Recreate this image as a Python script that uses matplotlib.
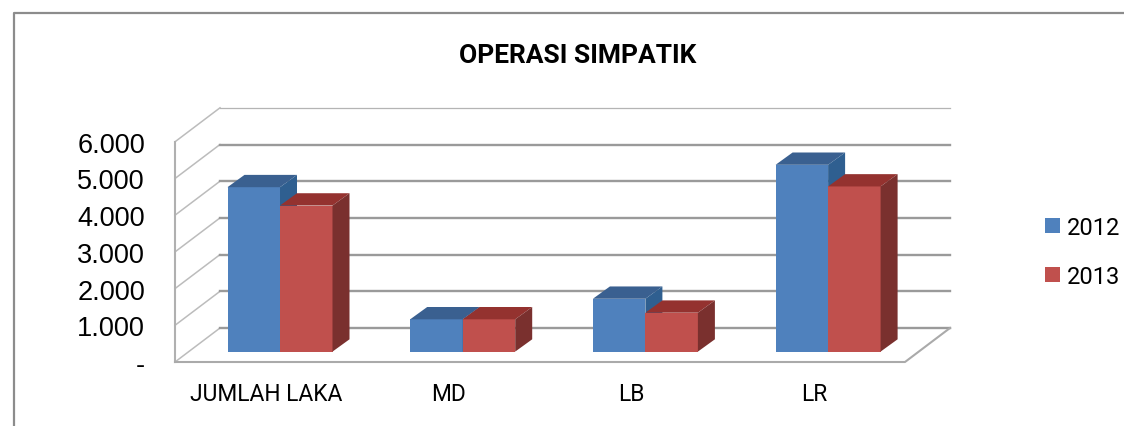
# -*- coding: utf-8 -*-
import matplotlib
matplotlib.use("Agg")
import matplotlib.pyplot as plt
from matplotlib.patches import Polygon

plt.rcParams['font.family'] = ['Liberation Sans', 'DejaVu Sans']

categories = ["JUMLAH LAKA", "MD", "LB", "LR"]
val_2012 = [4480, 880, 1440, 5090]
val_2013 = [3980, 880, 1060, 4500]
ticks = [0, 1000, 2000, 3000, 4000, 5000, 6000]
tick_labels = ["-", "1.000", "2.000", "3.000", "4.000", "5.000", "6.000"]

W, H = 1124, 427
# scale: 182.7 px between categories, 36.7 px for each 1000
XS = 182.7
YS = 36.7 / 1000
X0 = 280.0
Y0 = 352.6


def dx(px):
    return px / XS


def dy(px):
    return px / YS


def bar3d(ax, x, v, w, front, top, side):
    ax.bar(x, v, w, align='edge', color=front, linewidth=0, zorder=3)
    ox, oy = dx(17), dy(12.3)
    ax.add_patch(Polygon([(x, v), (x + w, v), (x + w + ox, v + oy), (x + ox, v + oy)],
                         closed=True, fc=top, ec='none', zorder=3))
    ax.add_patch(Polygon([(x + w, 0), (x + w + ox, oy), (x + w + ox, v + oy), (x + w, v)],
                         closed=True, fc=side, ec='none', zorder=3))


fig = plt.figure(figsize=(W / 100, H / 100), dpi=100)
ax = fig.add_axes([0, 0, 1, 1])
ax.set_xlim(-X0 / XS, (W - X0) / XS)
ax.set_ylim((Y0 - H) / YS, Y0 / YS)
ax.axis('off')

# chart frame
fx, fy = dx(13.5 - X0), dy(Y0 - 13.5)
ax.plot([ax.get_xlim()[1], fx, fx], [fy, fy, ax.get_ylim()[0]], color='#8c8c8c', lw=1.6, zorder=1)

# walls and floor
left = dx(175 - X0)
back = dx(220 - X0)
right = dx(905 - X0)
end = dx(950 - X0)
floor = dy(Y0 - 363)
rear = dy(Y0 - 329)
for t in ticks:
    ax.plot([left, back], [floor + t, rear + t], color='#bcbcbc', lw=1.1, zorder=2)
    lw = 0.9 if t == 6000 else 1.7
    col = '#b4b4b4' if t == 6000 else '#9a9a9a'
    ax.plot([back, end], [rear + t, rear + t], color=col, lw=lw, zorder=2)
ax.plot([left, left], [floor, floor + ticks[-1]], color='#b0b0b0', lw=1.5, zorder=2)
ax.plot([left, right, end], [floor, floor, rear], color='#aaaaaa', lw=1.5, zorder=2)

# bars
bw = 52.5 / XS
for i in range(len(categories)):
    bar3d(ax, i - bw, val_2012[i], bw, '#4F81BD', '#3A6090', '#2F5F90')
    bar3d(ax, i, val_2013[i], bw, '#C0504D', '#94322F', '#7A302E')

# labels
for t, s in zip(ticks, tick_labels):
    ax.text(dx(145 - X0), floor + t - dy(3), s, ha='right', va='center', fontsize=19.5, color='black')
for i, s in enumerate(categories):
    ax.text(i - dx(14), dy(Y0 - 395), s, ha='center', va='center', fontsize=16.4,
            family=['Roboto', 'DejaVu Sans'], color='black')
ax.text(dx(577.5 - X0), dy(Y0 - 56), "OPERASI SIMPATIK", ha='center', va='center',
        fontsize=19, fontweight='bold', family=['Roboto', 'DejaVu Sans'], color='black')

# legend
s1 = plt.Rectangle((0, 0), 1, 1, fc='#4F81BD')
s2 = plt.Rectangle((0, 0), 1, 1, fc='#C0504D')
ax.legend([s1, s2], ["2012", "2013"], frameon=False,
          prop={'family': ['Roboto', 'DejaVu Sans'], 'size': 17},
          loc='center left', bbox_to_anchor=(1040 / W, 1 - 253 / H),
          handlelength=0.63, handleheight=0.63, handletextpad=0.32,
          labelspacing=1.1, borderpad=0.2, borderaxespad=0)

fig.savefig("out.png", dpi=100, facecolor='white')
